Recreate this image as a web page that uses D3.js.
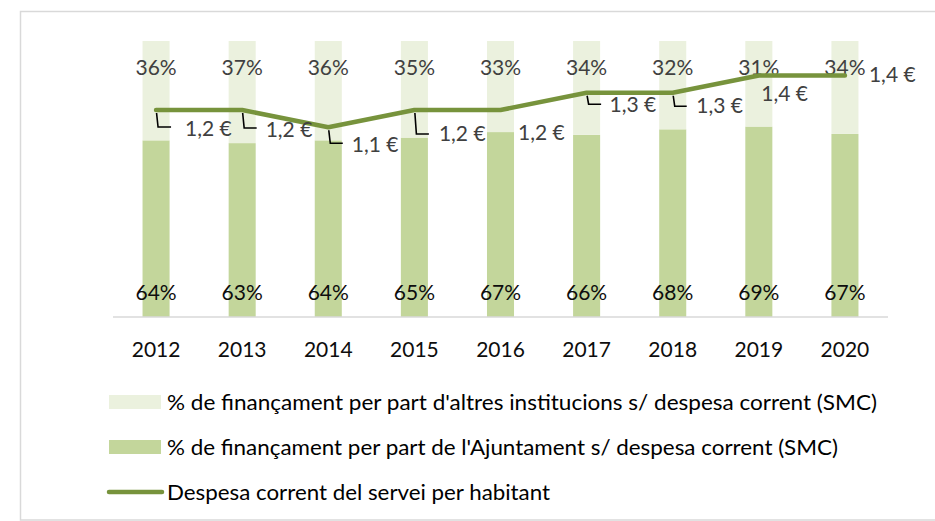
<!DOCTYPE html>
<html>
<head>
<meta charset="utf-8">
<script src="https://cdn.jsdelivr.net/npm/d3@7"></script>
<style>
  body { margin: 0; background: #fff; }
  text { font-family: Lato, "Open Sans", sans-serif; }
</style>
</head>
<body>
<div id="chart"></div>
<script>
// data
const years = ["2012", "2013", "2014", "2015", "2016", "2017", "2018", "2019", "2020"]
const ajuntament = [64, 63, 64, 65, 67, 66, 68, 69, 67]   // % financed by the council
const altres = [36, 37, 36, 35, 33, 34, 32, 31, 34]        // % financed by other institutions
const despesa = [1.2, 1.2, 1.1, 1.2, 1.2, 1.3, 1.3, 1.4, 1.4] // € per inhabitant
const legendLabels = [
  "%  de finançament per part d'altres institucions s/ despesa corrent (SMC)",
  "% de finançament per part de l'Ajuntament s/ despesa corrent (SMC)",
  "Despesa corrent del servei per habitant"
]

// label placement for the € labels (offset from point, leader line or not)
const euroLabelPos = [
  {dx: 29, dy: 26, lead: [17, 15]},
  {dx: 23.5, dy: 26.5, lead: [18, 14.5]},
  {dx: 23.5, dy: 24.5, lead: [16, 14.5]},
  {dx: 24.5, dy: 30.5, lead: [24, 14.5]},
  {dx: 17.5, dy: 30, lead: null},
  {dx: 23, dy: 19, lead: [11.5, 14.5]},
  {dx: 23.5, dy: 20.5, lead: [13.5, 14]},
  {dx: 2.5, dy: 25.5, lead: null},
  {dx: 24, dy: 6.5, lead: null}
]

const colors = {light: "#EBF1DE", mid: "#C3D69B", line: "#77933C"}

const W = 935, H = 521
const svg = d3.select("#chart").append("svg")
  .attr("width", W).attr("height", H)

// chart frame
svg.append("rect")
  .attr("x", 20.5).attr("y", 11.5)
  .attr("width", 940).attr("height", 508.5)
  .attr("fill", "none").attr("stroke", "#D9D9D9").attr("stroke-width", 1.5)

const plot = {left: 113, right: 888, top: 41, bottom: 317}

const x = d3.scaleBand().domain(years)
  .range([plot.left, plot.right])
  .paddingInner(0.686).paddingOuter(0.343)
const y = d3.scaleLinear().domain([0, 1]).range([plot.bottom, plot.top])
const y2 = d3.scaleLinear().domain([0, 1.6]).range([plot.bottom, plot.top])

const rows = years.map((yr, i) => ({year: yr, ajuntament: ajuntament[i], altres: altres[i]}))
const stacked = d3.stack().keys(["ajuntament", "altres"]).offset(d3.stackOffsetExpand)(rows)
const fill = {ajuntament: colors.mid, altres: colors.light}

svg.append("g").selectAll("g")
  .data(stacked)
  .join("g")
  .attr("fill", d => fill[d.key])
  .selectAll("rect")
  .data(d => d)
  .join("rect")
  .attr("x", d => x(d.data.year))
  .attr("y", d => y(d[1]))
  .attr("width", x.bandwidth())
  .attr("height", d => y(d[0]) - y(d[1]))

// x axis
const xAxis = svg.append("g")
  .attr("transform", `translate(0,${plot.bottom})`)
  .call(d3.axisBottom(x).tickSize(0).tickPadding(25))
xAxis.select(".domain").attr("stroke", "#D9D9D9").attr("stroke-width", 1.5)
  .attr("d", `M${plot.left},0H${plot.right}`)
xAxis.selectAll("text")
  .attr("font-size", 21).attr("fill", "#0d0d0d")
  .attr("font-family", "Lato, sans-serif")

const cx = yr => x(yr) + x.bandwidth() / 2

// % labels
svg.append("g").selectAll("text")
  .data(altres)
  .join("text")
  .attr("x", (d, i) => cx(years[i]))
  .attr("y", 75)
  .attr("text-anchor", "middle")
  .attr("font-size", 21).attr("fill", "#404040")
  .text(d => d + "%")

svg.append("g").selectAll("text")
  .data(ajuntament)
  .join("text")
  .attr("x", (d, i) => cx(years[i]))
  .attr("y", 300)
  .attr("text-anchor", "middle")
  .attr("font-size", 21).attr("fill", "#0d0d0d")
  .text(d => d + "%")

// line
const line = d3.line()
  .x((d, i) => cx(years[i]))
  .y(d => y2(d))
svg.append("path")
  .datum(despesa)
  .attr("d", line)
  .attr("fill", "none")
  .attr("stroke", colors.line)
  .attr("stroke-width", 4.5)
  .attr("stroke-linecap", "round")
  .attr("stroke-linejoin", "round")

// € labels with leader lines
const lab = svg.append("g")
despesa.forEach((v, i) => {
  const px = cx(years[i]), py = y2(v), p = euroLabelPos[i]
  if (p.lead) {
    lab.append("path")
      .attr("d", `M${px + 0.5},${py + 3}L${px + 2},${py + p.lead[0]}H${px + p.lead[1]}`)
      .attr("fill", "none").attr("stroke", "#000").attr("stroke-width", 1.6)
  }
  lab.append("text")
    .attr("x", px + p.dx).attr("y", py + p.dy)
    .attr("font-size", 21).attr("fill", "#404040")
    .text(d3.format(".1f")(v).replace(".", ",") + " €")
})

// legend
const legendY = [402, 447, 492]
const legendEnd = [877, 838, 550]
const lg = svg.append("g")
legendLabels.forEach((t, i) => {
  if (i < 2) {
    lg.append("rect")
      .attr("x", 109).attr("y", legendY[i] - 7)
      .attr("width", 52).attr("height", 14)
      .attr("fill", i === 0 ? colors.light : colors.mid)
  } else {
    lg.append("line")
      .attr("x1", 109).attr("x2", 162)
      .attr("y1", legendY[i]).attr("y2", legendY[i])
      .attr("stroke", colors.line).attr("stroke-width", 4.5)
      .attr("stroke-linecap", "round")
  }
  lg.append("text")
    .attr("x", 167).attr("y", legendY[i] + 8)
    .attr("font-size", 21).attr("fill", "#000")
    .attr("textLength", legendEnd[i] - 167)
    .attr("lengthAdjust", "spacingAndGlyphs")
    .text(t)
})
</script>
</body>
</html>
